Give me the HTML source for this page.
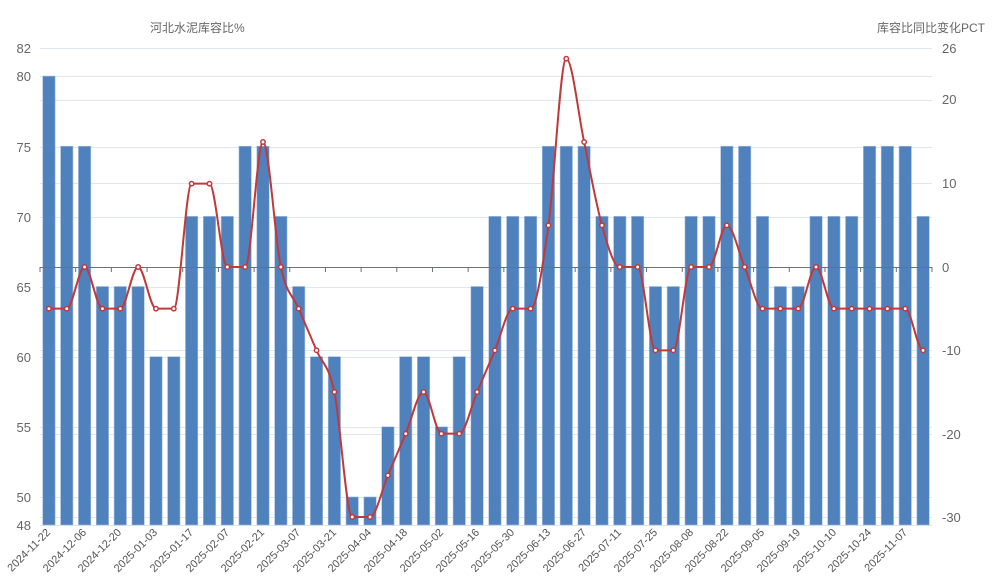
<!DOCTYPE html>
<html><head><meta charset="utf-8"><style>
body{margin:0;background:#fff;}
svg{display:block;font-family:"Liberation Sans","Noto Sans CJK SC",sans-serif;}
</style></head><body>
<svg id="c" width="992" height="585" viewBox="0 0 992 585">
<g stroke="#e0e6f1" stroke-width="1">
<line x1="40" x2="932" y1="48.5" y2="48.5"/><line x1="40" x2="932" y1="76.5" y2="76.5"/><line x1="40" x2="932" y1="100.5" y2="100.5"/>
<line x1="40" x2="932" y1="147.5" y2="147.5"/><line x1="40" x2="932" y1="183.5" y2="183.5"/><line x1="40" x2="932" y1="217.5" y2="217.5"/>
<line x1="40" x2="932" y1="287.5" y2="287.5"/><line x1="40" x2="932" y1="350.5" y2="350.5"/><line x1="40" x2="932" y1="357.5" y2="357.5"/>
<line x1="40" x2="932" y1="427.5" y2="427.5"/><line x1="40" x2="932" y1="434.5" y2="434.5"/><line x1="40" x2="932" y1="497.5" y2="497.5"/>
<line x1="40" x2="932" y1="517.5" y2="517.5"/><line x1="40" x2="932" y1="525.5" y2="525.5"/>
</g>
<g id="bars"></g>
<line x1="40" x2="932" y1="267.5" y2="267.5" stroke="#6e7079"/>
<g id="ticks" stroke="#6e7079"></g>
<path id="ln" fill="none" stroke="#c0393b" stroke-width="2"/>
<g id="pts"></g>
<g font-size="12" fill="#666">
<text x="150" y="32">河北水泥库容比%</text>
<text x="985" y="32" text-anchor="end">库容比同比变化PCT</text>
</g>
<g font-size="13" fill="#666" text-anchor="end">
<text x="31" y="53">82</text><text x="31" y="81">80</text><text x="31" y="152">75</text><text x="31" y="222">70</text>
<text x="31" y="292">65</text><text x="31" y="362">60</text><text x="31" y="432">55</text><text x="31" y="502">50</text><text x="31" y="530">48</text>
</g>
<g font-size="13" fill="#666">
<text x="942" y="53">26</text><text x="942" y="104">20</text><text x="942" y="188">10</text><text x="942" y="272">0</text>
<text x="942" y="355">-10</text><text x="942" y="439">-20</text><text x="942" y="522">-30</text>
</g>
<g font-size="11" fill="#555" text-anchor="end">
<text transform="translate(51,533) rotate(-45)">2024-11-22</text>
<text transform="translate(87,533) rotate(-45)">2024-12-06</text>
<text transform="translate(122,533) rotate(-45)">2024-12-20</text>
<text transform="translate(158,533) rotate(-45)">2025-01-03</text>
<text transform="translate(194,533) rotate(-45)">2025-01-17</text>
<text transform="translate(230,533) rotate(-45)">2025-02-07</text>
<text transform="translate(265,533) rotate(-45)">2025-02-21</text>
<text transform="translate(301,533) rotate(-45)">2025-03-07</text>
<text transform="translate(337,533) rotate(-45)">2025-03-21</text>
<text transform="translate(372,533) rotate(-45)">2025-04-04</text>
<text transform="translate(408,533) rotate(-45)">2025-04-18</text>
<text transform="translate(444,533) rotate(-45)">2025-05-02</text>
<text transform="translate(480,533) rotate(-45)">2025-05-16</text>
<text transform="translate(515,533) rotate(-45)">2025-05-30</text>
<text transform="translate(551,533) rotate(-45)">2025-06-13</text>
<text transform="translate(587,533) rotate(-45)">2025-06-27</text>
<text transform="translate(622,533) rotate(-45)">2025-07-11</text>
<text transform="translate(658,533) rotate(-45)">2025-07-25</text>
<text transform="translate(694,533) rotate(-45)">2025-08-08</text>
<text transform="translate(729,533) rotate(-45)">2025-08-22</text>
<text transform="translate(765,533) rotate(-45)">2025-09-05</text>
<text transform="translate(801,533) rotate(-45)">2025-09-19</text>
<text transform="translate(837,533) rotate(-45)">2025-10-10</text>
<text transform="translate(872,533) rotate(-45)">2025-10-24</text>
<text transform="translate(908,533) rotate(-45)">2025-11-07</text>
</g>
</svg>
<script>
var NS="http://www.w3.org/2000/svg";
var bars=[80,75,75,65,65,65,60,60,70,70,70,75,75,70,65,60,60,50,50,55,60,60,55,60,65,70,70,70,75,75,75,70,70,70,65,65,70,70,75,75,70,65,65,70,70,70,75,75,75,70];
var ln=[-5,-5,0,-5,-5,0,-5,-5,10,10,0,0,15,0,-5,-10,-15,-30,-30,-25,-20,-15,-20,-20,-15,-10,-5,-5,5,25,15,5,0,0,-10,-10,0,0,5,0,-5,-5,-5,0,-5,-5,-5,-5,-5,-10];
var cw=892/50;
function cx(i){return 40+cw/2+i*cw;}
function yl(v){return 525-(v-48)*(477/34);}
function yr(v){return 267-v*(250/30);}
var g=document.getElementById('bars');
bars.forEach(function(v,i){var r=document.createElementNS(NS,'rect');r.setAttribute('x',cx(i)-6.2);r.setAttribute('width',12.4);r.setAttribute('y',yl(v));r.setAttribute('height',525-yl(v));r.setAttribute('fill','#4f81bd');r.setAttribute('stroke','#a9c0e0');r.setAttribute('stroke-width','0.6');g.appendChild(r);});
var t=document.getElementById('ticks');
for(var k=0;k<=25;k++){var x=40+k*2*cw;var l=document.createElementNS(NS,'line');l.setAttribute('x1',x);l.setAttribute('x2',x);l.setAttribute('y1',267);l.setAttribute('y2',272);t.appendChild(l);}
var P=ln.map(function(v,i){return [cx(i),yr(v)];});
function cl(v,a,b){var lo=Math.min(a,b),hi=Math.max(a,b);return Math.max(lo,Math.min(hi,v));}
var d='M'+P[0][0]+','+P[0][1];var s=0.17;
for(var i=0;i<P.length-1;i++){var p0=P[i-1]||P[i],p1=P[i],p2=P[i+1],p3=P[i+2]||P[i+1];
var m1=((p1[1]-p0[1])*(p2[1]-p1[1])<=0)?0:(p2[1]-p0[1]);
var m2=((p2[1]-p1[1])*(p3[1]-p2[1])<=0)?0:(p3[1]-p1[1]);
var c1=[p1[0]+cw/3,cl(p1[1]+m1*s,p1[1],p2[1])],c2=[p2[0]-cw/3,cl(p2[1]-m2*s,p1[1],p2[1])];
d+=' C'+c1+' '+c2+' '+p2;}
document.getElementById('ln').setAttribute('d',d);
var pg=document.getElementById('pts');
P.forEach(function(p){var c=document.createElementNS(NS,'circle');c.setAttribute('cx',p[0]);c.setAttribute('cy',p[1]);c.setAttribute('r',2.2);c.setAttribute('fill','#fff');c.setAttribute('stroke','#c0393b');c.setAttribute('stroke-width','1.5');pg.appendChild(c);});
</script>
</body></html>
